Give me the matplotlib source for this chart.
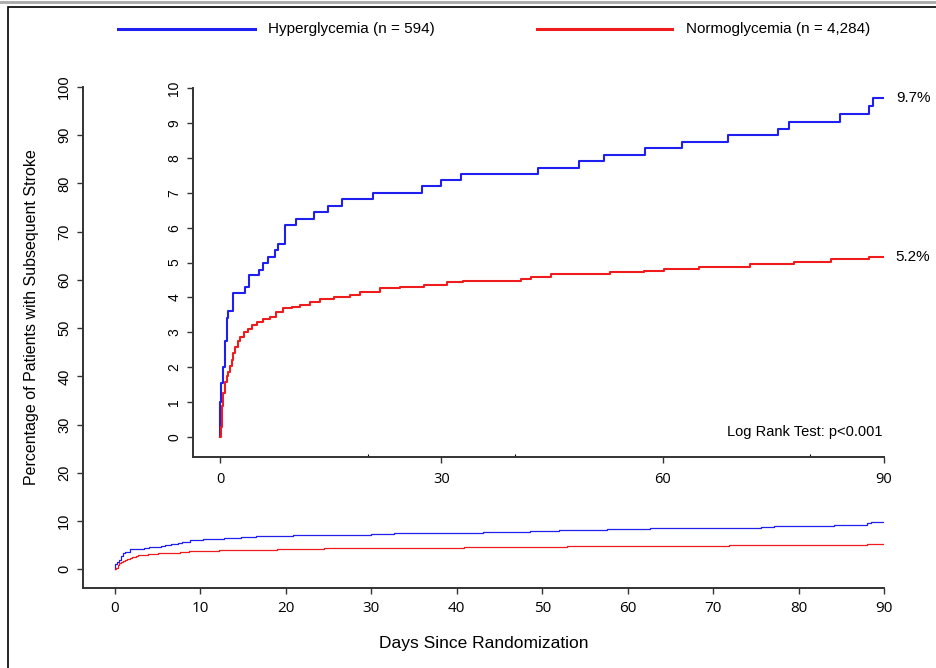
import matplotlib
matplotlib.use("Agg")
import matplotlib.pyplot as plt
from matplotlib.lines import Line2D
from matplotlib.patches import Rectangle

# === data (% of patients) ===
hyper_days = [0, 0.02, 0.2, 0.45, 0.68, 0.9, 1.15, 1.8, 3.4, 3.98, 5.34, 5.88, 6.56, 7.4,
              7.83, 8.82, 10.32, 12.8, 14.7, 16.5, 20.8, 27.4, 30.0, 32.6, 43.1, 48.6,
              52.0, 57.6, 62.6, 68.8, 75.6, 77.1, 84.1, 88.0, 88.5, 90.0]
hyper_pct = [0, 1.01, 1.55, 2.0, 2.75, 3.4, 3.6, 4.12, 4.31, 4.64, 4.8, 4.98, 5.16, 5.35,
             5.54, 6.07, 6.26, 6.44, 6.63, 6.82, 6.99, 7.18, 7.36, 7.54, 7.72, 7.91,
             8.09, 8.27, 8.45, 8.64, 8.83, 9.03, 9.25, 9.48, 9.72, 9.72]

normo_days = [0, 0.1, 0.3, 0.45, 0.68, 0.9, 1.13, 1.35, 1.59, 1.8, 2.04, 2.4, 2.71, 3.2,
              3.85, 4.4, 4.98, 5.8, 6.79, 7.6, 8.6, 9.7, 10.86, 12.2, 13.6, 15.5, 17.6,
              19.0, 21.7, 24.4, 27.6, 30.8, 33.0, 40.8, 42.1, 44.8, 52.9, 57.5, 60.2,
              64.9, 71.9, 77.8, 82.8, 88.0, 90.0]
normo_pct = [0, 0.3, 0.9, 1.25, 1.58, 1.75, 1.87, 2.05, 2.21, 2.4, 2.59, 2.75, 2.87, 3.0,
             3.11, 3.2, 3.3, 3.38, 3.45, 3.58, 3.69, 3.74, 3.78, 3.88, 3.97, 4.02, 4.07,
             4.16, 4.26, 4.31, 4.37, 4.45, 4.48, 4.54, 4.59, 4.67, 4.73, 4.76, 4.81,
             4.88, 4.97, 5.02, 5.1, 5.16, 5.16]

legend_labels = ["Hyperglycemia (n = 594)", "Normoglycemia (n = 4,284)"]
end_labels = ["9.7%", "5.2%"]
outer_xticks = list(range(0, 91, 10))
outer_yticks = list(range(0, 101, 10))
inset_xticks = [0, 30, 60, 90]
inset_yticks = list(range(0, 11))

BLUE = "#1f1ff0"
RED = "#ee1c1c"
AXC = "#333333"
ARIAL = ["Liberation Sans", "DejaVu Sans"]
OPEN = ["Open Sans", "DejaVu Sans"]

W, H = 937, 668
fig = plt.figure(figsize=(W / 100, H / 100), dpi=100)

# === outer axes (0-100 %) ===
ax = fig.add_axes([83 / W, 1 - 588 / H, 801 / W, 501 / H])
ax.step(hyper_days, hyper_pct, where="post", color=BLUE, lw=0.9)
ax.step(normo_days, normo_pct, where="post", color=RED, lw=0.9)
ax.set_xlim(-3.75, 90)
ax.set_ylim(-3.9, 100)
ax.set_xticks(outer_xticks)
ax.set_yticks(outer_yticks)
for s in ["top", "right"]:
    ax.spines[s].set_visible(False)
for s in ["left", "bottom"]:
    ax.spines[s].set_linewidth(1.4)
    ax.spines[s].set_color(AXC)
ax.tick_params(axis="both", length=4.5, width=1, color=AXC)
ax.tick_params(axis="x", pad=5)
ax.tick_params(axis="y", labelrotation=90, pad=4)
for lab in ax.get_xticklabels():
    lab.set_fontfamily(OPEN)
    lab.set_fontsize(11)
for lab in ax.get_yticklabels():
    lab.set_fontfamily(ARIAL)
    lab.set_fontsize(10.5)
    lab.set_va("center")
ax.set_xlabel("Days Since Randomization", fontfamily=ARIAL, fontsize=12.5, labelpad=14)
fig.text(32 / W, 1 - 317 / H, "Percentage of Patients with Subsequent Stroke",
         rotation=90, ha="center", va="center", fontfamily=ARIAL, fontsize=11.5)

# === inset (0-10 %) ===
ins = fig.add_axes([193 / W, 1 - 457 / H, 691 / W, 369 / H])
ins.set_facecolor("none")
ins.step(hyper_days, hyper_pct, where="post", color=BLUE, lw=1.5)
ins.step(normo_days, normo_pct, where="post", color=RED, lw=1.5)
ins.set_xlim(-3.66, 90)
ins.set_ylim(-0.57, 10)
ins.set_xticks(inset_xticks)
ins.set_xticks([20, 40, 80], minor=True)
ins.set_yticks(inset_yticks)
for s in ["top", "right"]:
    ins.spines[s].set_visible(False)
for s in ["left", "bottom"]:
    ins.spines[s].set_linewidth(1.4)
    ins.spines[s].set_color(AXC)
ins.tick_params(axis="both", length=4.5, width=1, color=AXC)
ins.tick_params(axis="x", which="minor", direction="in", length=2, width=0.8)
ins.tick_params(axis="x", pad=6)
ins.tick_params(axis="y", labelrotation=90, pad=4)
for lab in ins.get_xticklabels():
    lab.set_fontfamily(OPEN)
    lab.set_fontsize(10.5)
for lab in ins.get_yticklabels():
    lab.set_fontfamily(ARIAL)
    lab.set_fontsize(10)
    lab.set_va("center")

ins.text(91.6, hyper_pct[-1], end_labels[0], ha="left", va="center",
         fontfamily=ARIAL, fontsize=11, clip_on=False)
ins.text(91.6, normo_pct[-1], end_labels[1], ha="left", va="center",
         fontfamily=ARIAL, fontsize=11, clip_on=False)
ins.text(89.8, 0.15, "Log Rank Test: p<0.001", ha="right", va="center",
         fontfamily=ARIAL, fontsize=10.5)

# === legend on top ===
ly = 1 - 29 / H
fig.add_artist(Line2D([118 / W, 255 / W], [ly, ly], color=BLUE, lw=2.2))
fig.text(268 / W, ly, legend_labels[0], ha="left", va="center", fontfamily=ARIAL, fontsize=11)
fig.add_artist(Line2D([537 / W, 672 / W], [ly, ly], color=RED, lw=2.2))
fig.text(686 / W, ly, legend_labels[1], ha="left", va="center", fontfamily=ARIAL, fontsize=11)

# === frame round the figure ===
fig.add_artist(Line2D([0, 1], [1 - 1.5 / H] * 2, color="#aaaaaa", lw=2))
fig.add_artist(Rectangle((8 / W, -0.1), 1.2, 1 - 7 / H + 0.1, transform=fig.transFigure,
                         fill=False, lw=1.2, ec="black"))

fig.savefig("out.png", dpi=100)
